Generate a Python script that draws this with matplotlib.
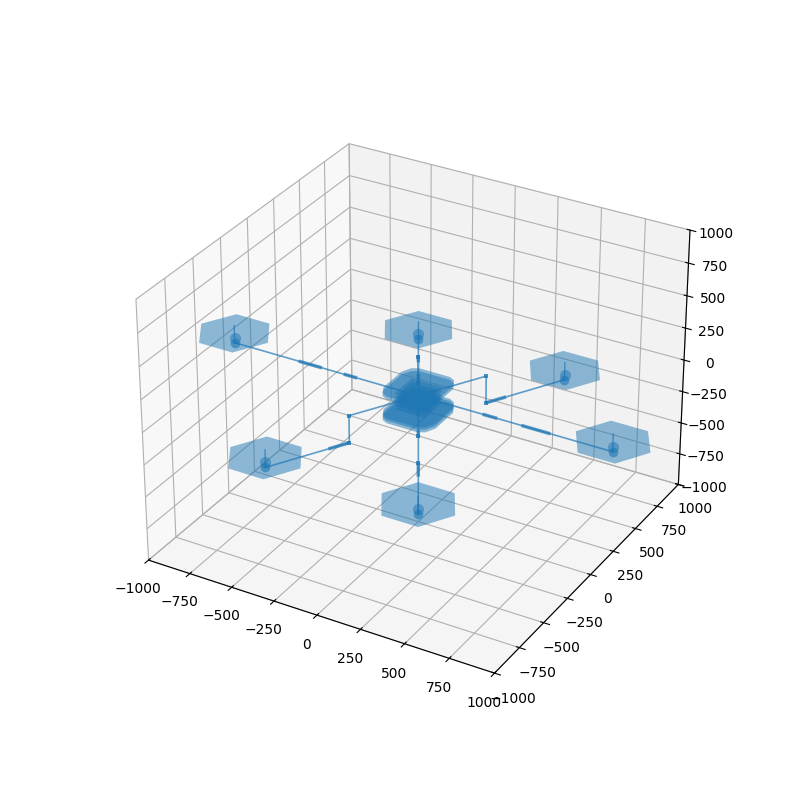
import matplotlib
matplotlib.use("Agg")
import matplotlib.pyplot as plt
from mpl_toolkits.mplot3d.art3d import Poly3DCollection

BLUE = "C0"

# Rotor hubs
rotor_x = [1100, 437, -437, -1100, -437, 437]
rotor_y = [0, 758, 758, 0, -758, -758]
rotor_z = [0, -210, -210, 0, -210, -210]
rotor_disc_z = [75, -135, -135, 75, -135, -135]
rotor_mast_z = [135, -75, -75, 135, -75, -75]
rotor_cap_z = [40, -170, -170, 40, -170, -170]

# Rotor disc outline, relative to hub
disc_dx = [205, 102, -102, -205, -102, 102]
disc_dy = [0, 178, 178, 0, -178, -178]

# Arm centre lines (with the step in the diagonal arms)
arm_e = ([0, 1100], [0, 0], [0, 0])
arm_w = ([0, -1100], [0, 0], [0, 0])
arm_ne = ([0, 200, 200, 437], [0, 346, 346, 758], [0, 0, -210, -210])
arm_sw = ([0, -200, -200, -437], [0, -346, -346, -758], [0, 0, -210, -210])
arm_nw = ([0, -200, -200, -437], [0, 346, 346, 758], [0, 0, -210, -210])
arm_se = ([0, 200, 200, 437], [0, -346, -346, -758], [0, 0, -210, -210])
arms = [arm_e, arm_w, arm_ne, arm_sw, arm_nw, arm_se]

# Thicker sleeves on the arms
sleeves = [
    ([380, 445], [0, 0], [0, 0]),
    ([600, 745], [0, 0], [0, 0]),
    ([-370, -430], [0, 0], [0, 0]),
    ([-580, -700], [0, 0], [0, 0]),
    ([205, 255], [355, 442], [-210, -210]),
    ([-205, -255], [-355, -442], [-210, -210]),
    ([-180, -200], [312, 346], [0, 0]),
    ([-205, -240], [355, 416], [-210, -210]),
    ([180, 200], [-312, -346], [0, 0]),
    ([205, 255], [-355, -442], [-210, -210]),
    ([70, 90], [-121, -156], [0, 0]),
]

# Step corners of the arms
node_x = [200, 200, -200, -200, -200, -200, 200, 200]
node_y = [346, 346, -346, -346, 346, 346, -346, -346]
node_z = [0, -210, 0, -210, 0, -210, 0, -210]

# Body plates: rounded outline
plate_x = [90, 125, 150, 150, 125, 90, -90, -125, -150, -150, -125, -90]
plate_y = [165, 145, 90, -90, -145, -165, -165, -145, -90, 90, 145, 165]
plate_levels = [70, 48, -100, -118, -138]
core_x = [90, 90, -90, -90]
core_y = [90, -90, -90, 90]
core_levels = [40, 10, -20, -50, -80]

fig = plt.figure(figsize=(8, 8), dpi=100)
ax = fig.add_subplot(projection="3d")

for x, y, z in arms:
    ax.plot(x, y, z, color=BLUE, lw=1.2, alpha=0.7)
for x, y, z in sleeves:
    ax.plot(x, y, z, color=BLUE, lw=2.5, alpha=0.7)
ax.plot(node_x, node_y, node_z, ls="none", color=BLUE, marker="s", ms=3.5, alpha=0.8, mew=0)

for hx, hy, hz, dz, mz, cz in zip(rotor_x, rotor_y, rotor_z, rotor_disc_z, rotor_mast_z, rotor_cap_z):
    verts = [[(hx + dx, hy + dy, dz) for dx, dy in zip(disc_dx, disc_dy)]]
    ax.add_collection3d(Poly3DCollection(verts, facecolor=BLUE, edgecolor="none", alpha=0.5))
    ax.plot([hx, hx], [hy, hy], [hz, mz], color=BLUE, lw=1, alpha=0.7)
    ax.plot([hx], [hy], [hz], color=BLUE, marker="o", ms=7, alpha=0.6, mew=0)
    ax.plot([hx], [hy], [cz], color=BLUE, marker="o", ms=8, alpha=0.5, mew=0)

for z in plate_levels:
    verts = [[(x, y, z) for x, y in zip(plate_x, plate_y)]]
    ax.add_collection3d(Poly3DCollection(verts, facecolor=BLUE, edgecolor="none", alpha=0.5))
for z in core_levels:
    verts = [[(x, y, z) for x, y in zip(core_x, core_y)]]
    ax.add_collection3d(Poly3DCollection(verts, facecolor=BLUE, edgecolor="none", alpha=0.5))

ax.set_xlim(-1000, 1000)
ax.set_ylim(-1000, 1000)
ax.set_zlim(-1000, 1000)

fig.savefig("out.png", dpi=100)
